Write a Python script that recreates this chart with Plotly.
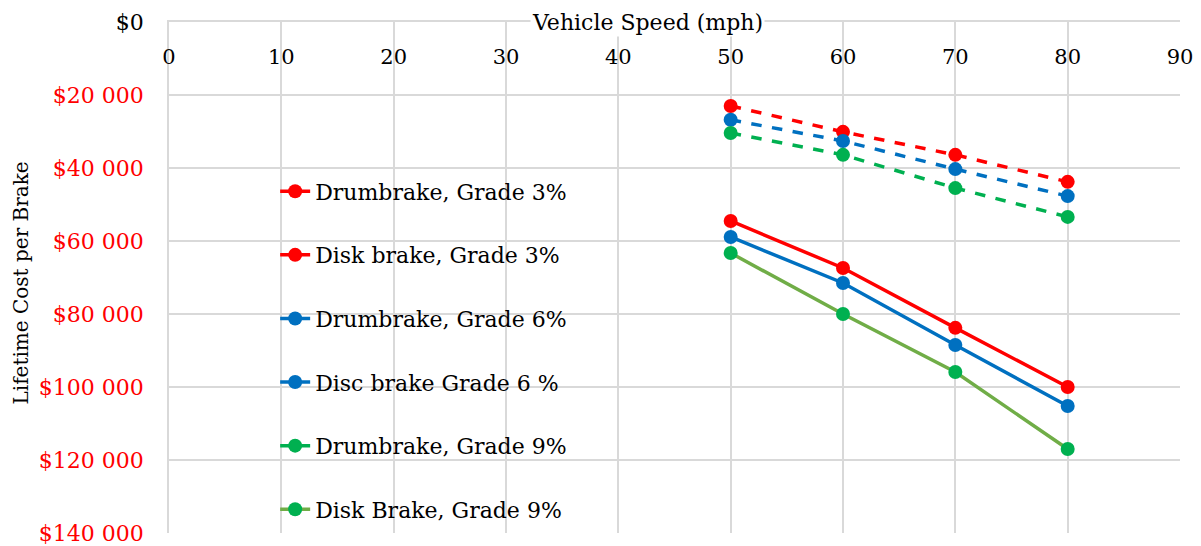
import plotly.graph_objects as go

speed = [50, 60, 70, 80]
drum3 = [23000, 30100, 36400, 43800]
disk3 = [54500, 67400, 83800, 100000]
drum6 = [26800, 32600, 40300, 47700]
disc6 = [58900, 71500, 88500, 105200]
drum9 = [30400, 36400, 45500, 53400]
disk9 = [63300, 80000, 95900, 117000]

names = ["Drumbrake, Grade 3%", "Disk brake, Grade 3%", "Drumbrake, Grade 6%",
         "Disc brake Grade 6 %", "Drumbrake, Grade 9%", "Disk Brake, Grade 9%"]
series = [drum3, disk3, drum6, disc6, drum9, disk9]
line_colors = ["#FF0000", "#FF0000", "#0070C0", "#0070C0", "#00B050", "#70AD47"]
marker_colors = ["#FF0000", "#FF0000", "#0070C0", "#0070C0", "#00B050", "#00B050"]
dashes = ["dash", "solid", "dash", "solid", "dash", "solid"]

y_ticks = [0, 20000, 40000, 60000, 80000, 100000, 120000, 140000]
x_ticks = [0, 10, 20, 30, 40, 50, 60, 70, 80, 90]

def money(v):
    s = f"{v:,}".replace(",", " ")
    return "$" + s

y_text = [('<span style="color:black">' + money(v) + '</span>') if v == 0 else money(v) for v in y_ticks]

FONT = "DejaVu Serif"

fig = go.Figure()
for i, (nm, ys) in enumerate(zip(names, series)):
    fig.add_trace(go.Scatter(
        x=speed, y=ys, name=nm, mode="lines+markers",
        line=dict(color=line_colors[i], width=3.5, dash=dashes[i]),
        marker=dict(color=marker_colors[i], size=14),
        legendgroup=f"g{i}",
    ))

fig.update_layout(
    width=1201, height=546,
    margin=dict(l=169, r=21, t=22, b=13, autoexpand=False),
    paper_bgcolor="white", plot_bgcolor="white",
    font=dict(family=FONT, size=21, color="black"),
    showlegend=True,
    legend=dict(x=0.105, y=0.005, xanchor="left", yanchor="bottom",
                bgcolor="rgba(255,255,255,0)", tracegroupgap=32,
                font=dict(family=FONT, size=22, color="black")),
    xaxis=dict(range=[0, 90], tickvals=x_ticks, side="top",
               ticklabelposition="inside", ticks="", ticklabelstandoff=29,
               ticklabeloverflow="allow",
               showgrid=True, gridcolor="#D9D9D9", gridwidth=1.5,
               showline=True, linecolor="#D9D9D9", linewidth=1.5,
               zeroline=False, tickfont=dict(size=21, color="black")),
    yaxis=dict(range=[140000, 0], tickvals=y_ticks, ticktext=y_text,
               ticks="", ticklabelstandoff=19, ticklabeloverflow="allow",
               showgrid=True, gridcolor="#D9D9D9", gridwidth=1.5,
               showline=True, linecolor="#D9D9D9", linewidth=1.5,
               zeroline=False, tickfont=dict(size=22, color="#FF0000")),
)

fig.add_annotation(text="Vehicle Speed (mph)", xref="paper", yref="paper",
                   x=0.473, y=1.0, xanchor="center", yanchor="middle",
                   showarrow=False, bgcolor="white",
                   font=dict(family=FONT, size=22, color="black"))
fig.add_annotation(text="Lifetime Cost per Brake", xref="paper", yref="paper",
                   x=-0.146, y=0.489, xanchor="center", yanchor="middle",
                   textangle=-90, showarrow=False,
                   font=dict(family=FONT, size=20, color="black"))

fig.write_html("out.html")
